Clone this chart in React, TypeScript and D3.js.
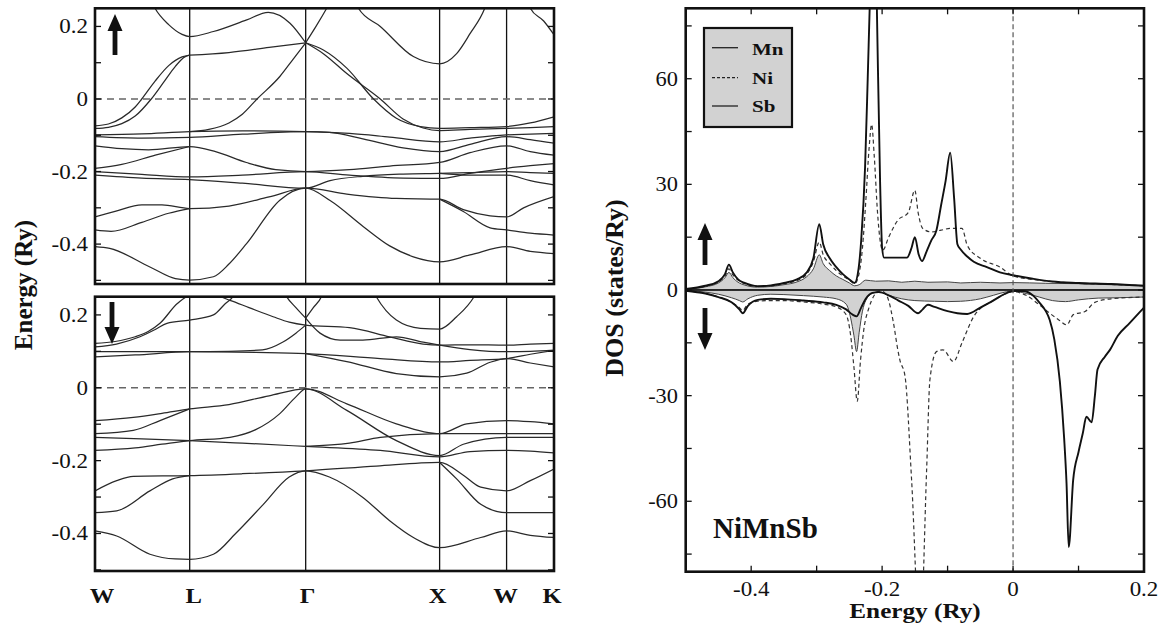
import React from "react";
import * as d3 from "d3";

type P = [number, number];

// ---------- Band structure data (k in path units, E in Ry) ----------
const kPoints = [0, 0.707, 1.573, 2.573, 3.073, 3.427];
const kLabels = ["W", "L", "Γ", "X", "W", "K"];
const bandTicks = [-0.4, -0.2, 0, 0.2];
const bandTickLabels = ["-0.4", "-0.2", "0", "0.2"];
const bandMinorTicks = [-0.5, -0.3, -0.1, 0.1];

const spinUpBands: P[][] = [
  [[0.42, 0.27], [0.448, 0.25], [0.55, 0.205], [0.65, 0.178], [0.707, 0.172], [0.884, 0.186], [1.133, 0.218], [1.294, 0.239], [1.456, 0.209], [1.573, 0.155]],
  [[1.573, 0.155], [1.65, 0.2], [1.73, 0.25], [1.76, 0.27]],
  [[1.94, 0.27], [1.967, 0.25], [2.13, 0.2], [2.377, 0.117], [2.573, 0.097], [2.7, 0.125], [2.8, 0.18], [2.91, 0.25], [2.93, 0.27]],
  [[3.23, 0.27], [3.25, 0.25], [3.35, 0.215], [3.427, 0.177]],
  [[0.707, 0.121], [1.0, 0.128], [1.3, 0.142], [1.573, 0.155]],
  [[1.573, 0.155], [1.705, 0.135], [1.88, 0.085], [2.08, 0.0], [2.25, -0.053], [2.43, -0.076], [2.573, -0.081], [2.8, -0.079], [3.073, -0.076], [3.25, -0.066], [3.427, -0.049]],
  [[1.573, 0.155], [1.705, 0.125], [1.88, 0.07], [2.13, 0.0], [2.3, -0.055], [2.45, -0.08], [2.573, -0.087], [2.8, -0.084], [3.073, -0.081], [3.25, -0.079], [3.427, -0.076]],
  [[0.707, -0.09], [0.85, -0.084], [1.0, -0.066], [1.1, -0.042], [1.21, 0.0], [1.38, 0.062], [1.48, 0.11], [1.573, 0.155]],
  [[0, -0.074], [0.1, -0.069], [0.2, -0.052], [0.3, -0.022], [0.349, 0.0], [0.45, 0.05], [0.55, 0.092], [0.65, 0.116], [0.707, 0.121]],
  [[0, -0.081], [0.1, -0.078], [0.2, -0.068], [0.3, -0.047], [0.42, 0.0], [0.52, 0.05], [0.6, 0.09], [0.67, 0.116], [0.707, 0.121]],
  [[0, -0.099], [0.35, -0.096], [0.707, -0.09], [1.1, -0.088], [1.573, -0.09], [1.9, -0.095], [2.2, -0.105], [2.573, -0.118], [2.8, -0.108], [3.073, -0.099], [3.25, -0.097], [3.427, -0.095]],
  [[0, -0.104], [0.35, -0.108], [0.707, -0.106], [1.1, -0.097], [1.573, -0.09], [1.75, -0.092], [2.0, -0.11], [2.3, -0.135], [2.573, -0.145], [2.8, -0.125], [3.073, -0.104], [3.25, -0.112], [3.427, -0.122]],
  [[0, -0.129], [0.2, -0.137], [0.4, -0.14], [0.707, -0.131], [0.9, -0.145], [1.13, -0.175], [1.35, -0.195], [1.573, -0.2], [1.9, -0.195], [2.2, -0.185], [2.573, -0.175], [2.8, -0.148], [3.073, -0.129], [3.25, -0.145], [3.427, -0.155]],
  [[0, -0.191], [0.2, -0.18], [0.45, -0.155], [0.707, -0.131]],
  [[0, -0.2], [0.35, -0.208], [0.707, -0.215], [1.1, -0.21], [1.573, -0.2], [1.9, -0.21], [2.3, -0.218], [2.573, -0.219], [2.8, -0.205], [3.073, -0.191], [3.25, -0.184], [3.427, -0.178]],
  [[0, -0.21], [0.35, -0.218], [0.707, -0.222], [1.1, -0.232], [1.573, -0.246], [1.755, -0.225], [2.0, -0.213], [2.3, -0.207], [2.573, -0.205], [2.8, -0.203], [3.073, -0.2], [3.25, -0.203], [3.427, -0.205]],
  [[2.573, -0.205], [2.8, -0.21], [3.073, -0.21], [3.25, -0.225], [3.427, -0.237]],
  [[0, -0.325], [0.15, -0.31], [0.35, -0.292], [0.5, -0.292], [0.707, -0.302], [1.0, -0.295], [1.3, -0.27], [1.573, -0.246], [1.88, -0.262], [2.25, -0.274], [2.573, -0.276], [2.75, -0.305], [2.95, -0.322], [3.073, -0.325], [3.2, -0.3], [3.427, -0.269]],
  [[0, -0.361], [0.12, -0.365], [0.35, -0.34], [0.55, -0.315], [0.707, -0.302]],
  [[2.573, -0.276], [2.75, -0.31], [2.95, -0.355], [3.073, -0.361], [3.25, -0.37], [3.427, -0.375]],
  [[0, -0.407], [0.11, -0.412], [0.41, -0.463], [0.6, -0.495], [0.707, -0.499], [0.884, -0.49], [1.0, -0.455], [1.133, -0.398], [1.38, -0.279], [1.573, -0.246], [1.755, -0.28], [2.004, -0.352], [2.2, -0.405], [2.377, -0.435], [2.573, -0.449], [2.8, -0.43], [3.073, -0.407], [3.25, -0.42], [3.427, -0.426]],
];

const spinDownBands: P[][] = [
  [[0, 0.122], [0.15, 0.127], [0.3, 0.14], [0.4, 0.155], [0.485, 0.177], [0.617, 0.232], [0.707, 0.252], [0.9, 0.252], [1.008, 0.24], [1.15, 0.22], [1.33, 0.195], [1.45, 0.18], [1.573, 0.172], [1.9, 0.165], [2.2, 0.14], [2.45, 0.12], [2.573, 0.117], [2.8, 0.118], [3.073, 0.117], [3.25, 0.12], [3.427, 0.122]],
  [[0, 0.112], [0.16, 0.12], [0.336, 0.14], [0.45, 0.16], [0.537, 0.177], [0.707, 0.186], [0.884, 0.2], [0.97, 0.23], [1.03, 0.25], [1.06, 0.27]],
  [[0, 0.099], [0.35, 0.099], [0.707, 0.099], [1.2, 0.097], [1.573, 0.094], [2.13, 0.08], [2.573, 0.071], [2.8, 0.075], [3.073, 0.08], [3.25, 0.092], [3.427, 0.103]],
  [[0, 0.085], [0.3, 0.09], [0.707, 0.099], [1.0, 0.1], [1.25, 0.104], [1.4, 0.125], [1.5, 0.15], [1.573, 0.172]],
  [[1.573, 0.191], [1.68, 0.15], [1.83, 0.131], [2.0, 0.131], [2.25, 0.14], [2.45, 0.125], [2.573, 0.117], [2.8, 0.105], [3.073, 0.099], [3.25, 0.1], [3.427, 0.103]],
  [[1.4, 0.27], [1.43, 0.25], [1.5, 0.22], [1.573, 0.191]],
  [[1.573, 0.191], [1.63, 0.22], [1.69, 0.25], [1.71, 0.27]],
  [[2.07, 0.27], [2.1, 0.25], [2.25, 0.186], [2.43, 0.163], [2.573, 0.161], [2.7, 0.195], [2.83, 0.25], [2.86, 0.27]],
  [[1.573, 0.094], [1.88, 0.072], [2.25, 0.039], [2.573, 0.03], [2.775, 0.04], [2.95, 0.07], [3.073, 0.08], [3.25, 0.068], [3.427, 0.057]],
  [[0, -0.09], [0.286, -0.081], [0.5, -0.07], [0.707, -0.058], [1.0, -0.046], [1.3, -0.022], [1.573, -0.003], [1.88, -0.044], [2.25, -0.099], [2.573, -0.126], [2.775, -0.099], [3.073, -0.09], [3.25, -0.093], [3.427, -0.099]],
  [[0, -0.126], [0.286, -0.117], [0.485, -0.09], [0.707, -0.058]],
  [[0, -0.136], [0.35, -0.14], [0.707, -0.145], [1.1, -0.152], [1.573, -0.161], [2.13, -0.172], [2.573, -0.19], [2.8, -0.175], [3.073, -0.172], [3.25, -0.174], [3.427, -0.179]],
  [[0, -0.172], [0.3, -0.165], [0.5, -0.155], [0.707, -0.145], [1.008, -0.136], [1.2, -0.115], [1.38, -0.071], [1.5, -0.025], [1.573, -0.003], [1.88, -0.062], [2.25, -0.145], [2.573, -0.186], [2.75, -0.155], [3.073, -0.136], [3.25, -0.136], [3.427, -0.136]],
  [[1.573, -0.161], [1.9, -0.152], [2.13, -0.136], [2.573, -0.126], [3.073, -0.126], [3.427, -0.126]],
  [[0, -0.283], [0.162, -0.255], [0.286, -0.243], [0.707, -0.241], [1.1, -0.236], [1.573, -0.228], [2.1, -0.215], [2.573, -0.205], [2.75, -0.24], [2.88, -0.273], [3.073, -0.283], [3.25, -0.255], [3.427, -0.223]],
  [[0, -0.343], [0.162, -0.338], [0.41, -0.283], [0.58, -0.25], [0.707, -0.241]],
  [[0, -0.393], [0.162, -0.407], [0.41, -0.457], [0.6, -0.47], [0.707, -0.471], [0.884, -0.457], [1.05, -0.4], [1.257, -0.32], [1.45, -0.245], [1.573, -0.228], [1.75, -0.245], [2.0, -0.301], [2.2, -0.365], [2.377, -0.411], [2.573, -0.439], [2.88, -0.411], [3.073, -0.393], [3.25, -0.405], [3.427, -0.411]],
  [[2.573, -0.205], [2.7, -0.25], [2.88, -0.32], [3.073, -0.343], [3.25, -0.343], [3.427, -0.343]],
];

// ---------- DOS data (E in Ry, DOS in states/Ry) ----------
const dosEnergyTicks = [-0.4, -0.2, 0, 0.2];
const dosEnergyLabels = ["-0.4", "-0.2", "0", "0.2"];
const dosValueTicks = [-60, -30, 0, 30, 60];
const dosValueLabels = ["-60", "-30", "0", "30", "60"];
const legendNames = ["Mn", "Ni", "Sb"];

const mnUp: P[] = [
  [-0.5, 0.3], [-0.47, 1.2], [-0.45, 2.5], [-0.44, 4.5], [-0.434, 7.2], [-0.428, 5], [-0.42, 3], [-0.41, 2], [-0.39, 1.1], [-0.37, 1.3], [-0.35, 2], [-0.33, 3], [-0.315, 5], [-0.305, 9], [-0.296, 18.7], [-0.29, 13], [-0.28, 9], [-0.27, 6.5], [-0.26, 4.5], [-0.25, 3], [-0.242, 2], [-0.236, 6], [-0.232, 14], [-0.226, 35], [-0.222, 60], [-0.219, 80], [-0.214, 110], [-0.21, 100], [-0.208, 80], [-0.203, 30], [-0.2, 12], [-0.197, 9.2], [-0.18, 9.2], [-0.162, 9.2], [-0.155, 12], [-0.15, 15], [-0.144, 10], [-0.139, 8.2], [-0.132, 11], [-0.125, 14], [-0.117, 17], [-0.11, 24], [-0.103, 31], [-0.096, 39], [-0.09, 26], [-0.085, 13], [-0.08, 11.5], [-0.07, 9.5], [-0.06, 8], [-0.04, 6.5], [-0.02, 5], [0, 4.2], [0.03, 3.2], [0.06, 2.4], [0.1, 2], [0.15, 1.7], [0.2, 1.2],
];
const niUp: P[] = [
  [-0.5, 0.3], [-0.47, 1.1], [-0.45, 2.3], [-0.44, 4], [-0.434, 6], [-0.428, 4.3], [-0.42, 2.8], [-0.41, 1.8], [-0.39, 1.0], [-0.37, 1.2], [-0.35, 1.8], [-0.33, 2.7], [-0.315, 4.5], [-0.305, 8], [-0.296, 13.6], [-0.29, 10], [-0.28, 7.5], [-0.27, 5.5], [-0.26, 4], [-0.25, 2.8], [-0.242, 1.8], [-0.236, 4], [-0.23, 12], [-0.225, 25], [-0.22, 40], [-0.216, 47], [-0.212, 38], [-0.207, 22], [-0.203, 14], [-0.199, 11.3], [-0.19, 15], [-0.176, 19.8], [-0.16, 22], [-0.15, 28.3], [-0.145, 22], [-0.138, 17.5], [-0.125, 16.5], [-0.11, 17], [-0.095, 17.5], [-0.078, 17.5], [-0.07, 12.7], [-0.05, 9], [-0.02, 6.5], [0, 4], [0.03, 3], [0.06, 2.4], [0.1, 1.9], [0.15, 1.6], [0.2, 1.2],
];
const sbUp: P[] = [
  [-0.5, 0.2], [-0.47, 0.9], [-0.45, 2], [-0.44, 3.5], [-0.434, 5], [-0.428, 3.5], [-0.42, 2.2], [-0.41, 1.4], [-0.39, 0.8], [-0.37, 1], [-0.35, 1.5], [-0.33, 2.3], [-0.315, 3.8], [-0.305, 6], [-0.296, 10], [-0.29, 7.5], [-0.28, 5.5], [-0.27, 4], [-0.26, 3], [-0.25, 2], [-0.242, 1.2], [-0.235, 1.5], [-0.225, 2.8], [-0.21, 2.5], [-0.19, 2.6], [-0.17, 2.2], [-0.15, 2.5], [-0.13, 2.2], [-0.1, 2.3], [-0.08, 2.0], [-0.05, 2.2], [-0.02, 2.0], [0, 2.1], [0.05, 1.9], [0.1, 1.8], [0.15, 1.5], [0.2, 1.3],
];
const mnDown: P[] = [
  [-0.5, -0.2], [-0.47, -1], [-0.45, -2], [-0.43, -3.5], [-0.418, -5.5], [-0.413, -6.6], [-0.405, -4.5], [-0.39, -2.8], [-0.37, -2.5], [-0.35, -2.6], [-0.32, -3], [-0.29, -3.5], [-0.27, -4.2], [-0.255, -5.5], [-0.245, -7], [-0.239, -7.5], [-0.232, -5], [-0.225, -2.5], [-0.215, -0.8], [-0.205, -0.6], [-0.19, -1.5], [-0.175, -3], [-0.16, -4.5], [-0.145, -6.6], [-0.138, -5.5], [-0.13, -4.2], [-0.12, -4.8], [-0.1, -6], [-0.085, -6.6], [-0.07, -6.8], [-0.05, -5], [-0.035, -3.5], [-0.01, -0.9], [0, -0.3], [0.015, -0.3], [0.03, -1.5], [0.04, -3.5], [0.05, -6], [0.056, -8.5], [0.063, -14], [0.0715, -26], [0.078, -42], [0.0817, -55], [0.085, -73], [0.0918, -54], [0.1, -46], [0.1066, -40.6], [0.112, -36], [0.12, -37.6], [0.125, -30], [0.129, -22.6], [0.14, -19], [0.148, -17], [0.16, -13], [0.178, -9.4], [0.2, -5],
];
const niDown: P[] = [
  [-0.5, -0.2], [-0.47, -1], [-0.45, -2], [-0.43, -3.5], [-0.418, -5], [-0.413, -5.8], [-0.405, -4], [-0.39, -3.2], [-0.37, -3], [-0.35, -3], [-0.32, -3.4], [-0.29, -4], [-0.27, -4.8], [-0.255, -7], [-0.248, -13], [-0.243, -22], [-0.238, -31.6], [-0.233, -20], [-0.228, -11.3], [-0.22, -5], [-0.212, -1.5], [-0.205, -0.3], [-0.198, -0.5], [-0.19, -3], [-0.183, -9], [-0.176, -17], [-0.173, -19.8], [-0.165, -24.5], [-0.155, -53.8], [-0.142, -100], [-0.132, -51], [-0.127, -25.5], [-0.117, -17.5], [-0.107, -17], [-0.091, -20.3], [-0.078, -15], [-0.06, -7.5], [-0.03, -3], [-0.01, -1], [0, -0.5], [0.02, -1.5], [0.04, -4.2], [0.056, -6.6], [0.07, -8.5], [0.082, -9.9], [0.092, -7], [0.11, -6.1], [0.125, -3.5], [0.15, -2.5], [0.2, -2],
];
const sbDown: P[] = [
  [-0.5, -0.1], [-0.47, -0.6], [-0.45, -1.2], [-0.43, -2.2], [-0.418, -3], [-0.413, -3.4], [-0.405, -2.5], [-0.39, -1.5], [-0.37, -1.2], [-0.35, -1.3], [-0.32, -1.6], [-0.29, -2], [-0.27, -2.5], [-0.255, -4], [-0.248, -8], [-0.243, -13], [-0.239, -17.5], [-0.235, -12], [-0.23, -6], [-0.225, -3], [-0.215, -1], [-0.205, -0.5], [-0.19, -1.5], [-0.17, -2.5], [-0.15, -3], [-0.12, -3.2], [-0.1, -3.3], [-0.08, -3.2], [-0.05, -2.5], [-0.03, -1.5], [-0.01, -0.5], [0, -0.3], [0.02, -1], [0.04, -2], [0.06, -3], [0.08, -3.3], [0.1, -2.8], [0.13, -2.3], [0.16, -2.2], [0.2, -2],
];

const FONT = "'Liberation Serif', 'Times New Roman', Times, serif";

function SText(props: { x: number; y: number; sx?: number; anchor?: string; size: number; bold?: boolean; children: React.ReactNode }) {
  const { x, y, sx = 1.15, anchor = "start", size, bold, children } = props;
  return (
    <text transform={`translate(${x},${y}) scale(${sx},1)`} textAnchor={anchor} fontSize={size} fontWeight={bold ? "bold" : "normal"} fontFamily={FONT} fill="#111">
      {children}
    </text>
  );
}

function Arrow({ x, y1, y2 }: { x: number; y1: number; y2: number }) {
  const dir = y2 < y1 ? -1 : 1;
  const headLen = 17;
  const hw = 7.5;
  const sw = 2.4;
  const hb = y2 - dir * headLen;
  const d = `M${x - sw},${y1} L${x + sw},${y1} L${x + sw},${hb} L${x + hw},${hb} L${x},${y2} L${x - hw},${hb} L${x - sw},${hb} Z`;
  return <path d={d} fill="#111" />;
}

function BandPanel({ id, bands, top, bottom, domain, arrowUp }: { id: string; bands: P[][]; top: number; bottom: number; domain: [number, number]; arrowUp: boolean }) {
  const left = 95, right = 554;
  const x = d3.scaleLinear().domain([0, 3.427]).range([left, right]);
  const y = d3.scaleLinear().domain(domain).range([bottom, top]);
  const line = d3.line<P>().x((d) => x(d[0])).y((d) => y(d[1])).curve(d3.curveMonotoneX);
  return (
    <g>
      <defs>
        <clipPath id={id}>
          <rect x={left} y={top} width={right - left} height={bottom - top} />
        </clipPath>
      </defs>
      <g clipPath={`url(#${id})`}>
        {kPoints.slice(1, -1).map((k, i) => (
          <line key={i} x1={x(k)} x2={x(k)} y1={top} y2={bottom} stroke="#111" strokeWidth={1.3} />
        ))}
        <line x1={left} x2={right} y1={y(0)} y2={y(0)} stroke="#666" strokeWidth={1.5} strokeDasharray="7,5" />
        {bands.map((b, i) => (
          <path key={i} d={line(b) || ""} fill="none" stroke="#2a2a2a" strokeWidth={1.25} />
        ))}
      </g>
      {[...bandTicks, ...bandMinorTicks].map((t, i) => (
        <g key={i}>
          <line x1={left} x2={left + 6} y1={y(t)} y2={y(t)} stroke="#111" strokeWidth={1.3} />
          <line x1={right - 6} x2={right} y1={y(t)} y2={y(t)} stroke="#111" strokeWidth={1.3} />
        </g>
      ))}
      {bandTicks.map((t, i) => (
        <SText key={i} x={88} y={y(t) + 7} anchor="end" size={20} sx={1.15}>
          {bandTickLabels[i]}
        </SText>
      ))}
      <rect x={left} y={top} width={right - left} height={bottom - top} fill="none" stroke="#111" strokeWidth={2.6} />
      {arrowUp ? <Arrow x={115} y1={55} y2={14} /> : <Arrow x={112} y1={302} y2={344} />}
    </g>
  );
}

export default function App() {
  const L = 685.7, R = 1144, T = 8.3, B = 571.7;
  const dx = d3.scaleLinear().domain([-0.5, 0.2]).range([L, R]);
  const dy = d3.scaleLinear().domain([-80, 80]).range([B, T]);
  const line = d3.line<P>().x((d) => dx(d[0])).y((d) => dy(d[1])).curve(d3.curveMonotoneX);
  const area = d3.area<P>().x((d) => dx(d[0])).y0(dy(0)).y1((d) => dy(d[1])).curve(d3.curveMonotoneX);
  const bx = d3.scaleLinear().domain([0, 3.427]).range([95, 554]);
  const labelOffsets = [7, 4, 2, -2, -1, -2];
  const minorV = d3.range(-75, 76, 15);
  const minorE = [-0.4, -0.3, -0.2, -0.1, 0, 0.1];

  return (
    <div style={{ position: "fixed", left: 0, top: 0 }}>
      <svg width={1169} height={630} style={{ display: "block", background: "#fff" }}>
        <rect x={0} y={0} width={1169} height={630} fill="#fff" />
        <BandPanel id="clipUp" bands={spinUpBands} top={8.3} bottom={284} domain={[-0.51, 0.25]} arrowUp={true} />
        <BandPanel id="clipDn" bands={spinDownBands} top={296.7} bottom={571} domain={[-0.503, 0.25]} arrowUp={false} />
        {kPoints.map((k, i) => (
          <SText key={i} x={bx(k) + labelOffsets[i]} y={603} anchor="middle" size={22} bold sx={1.12}>
            {kLabels[i]}
          </SText>
        ))}
        <text transform="translate(32,285) rotate(-90)" textAnchor="middle" fontSize={25} fontWeight="bold" fontFamily={FONT} fill="#111">
          Energy (Ry)
        </text>

        <defs>
          <clipPath id="clipDos">
            <rect x={L} y={T} width={R - L} height={B - T} />
          </clipPath>
        </defs>
        <g clipPath="url(#clipDos)">
          <path d={area(sbUp) || ""} fill="#d2d2d2" stroke="#444" strokeWidth={1} />
          <path d={area(sbDown) || ""} fill="#d2d2d2" stroke="#444" strokeWidth={1} />
          <path d={line(niUp) || ""} fill="none" stroke="#333" strokeWidth={1.2} strokeDasharray="4,3" />
          <path d={line(niDown) || ""} fill="none" stroke="#333" strokeWidth={1.2} strokeDasharray="4,3" />
          <path d={line(mnUp) || ""} fill="none" stroke="#111" strokeWidth={1.9} />
          <path d={line(mnDown) || ""} fill="none" stroke="#111" strokeWidth={1.9} />
          <line x1={L} x2={R} y1={dy(0)} y2={dy(0)} stroke="#111" strokeWidth={1.6} />
          <line x1={dx(0)} x2={dx(0)} y1={T} y2={B} stroke="#555" strokeWidth={1.2} strokeDasharray="5,3" />
        </g>
        {minorV.map((v, i) => (
          <g key={"v" + i}>
            <line x1={L} x2={L + 6} y1={dy(v)} y2={dy(v)} stroke="#111" strokeWidth={1.3} />
            <line x1={R - 6} x2={R} y1={dy(v)} y2={dy(v)} stroke="#111" strokeWidth={1.3} />
          </g>
        ))}
        {minorE.map((e, i) => (
          <g key={"e" + i}>
            <line x1={dx(e)} x2={dx(e)} y1={B} y2={B - 6} stroke="#111" strokeWidth={1.3} />
            <line x1={dx(e)} x2={dx(e)} y1={T} y2={T + 6} stroke="#111" strokeWidth={1.3} />
          </g>
        ))}
        {dosValueTicks.map((v, i) => (
          <SText key={i} x={678} y={dy(v) + 7} anchor="end" size={20} sx={1.12}>
            {dosValueLabels[i]}
          </SText>
        ))}
        {dosEnergyTicks.map((e, i) => (
          <SText key={i} x={dx(e)} y={596} anchor="middle" size={20} sx={1.15}>
            {dosEnergyLabels[i]}
          </SText>
        ))}
        <rect x={L} y={T} width={R - L} height={B - T} fill="none" stroke="#111" strokeWidth={2.6} />

        <rect x={704} y={28} width={88} height={99} fill="#d2d2d2" stroke="#111" strokeWidth={2.2} />
        {legendNames.map((n, i) => {
          const ly = [47.7, 77.7, 106][i];
          const by = [55, 84, 112][i];
          return (
            <g key={n}>
              <line x1={712} x2={738} y1={ly} y2={ly} stroke="#222" strokeWidth={1.3} strokeDasharray={n === "Ni" ? "3,2" : undefined} />
              <SText x={752} y={by} size={17.5} bold sx={1.2}>
                {n}
              </SText>
            </g>
          );
        })}

        <text x={713} y={538} fontSize={29} fontWeight="bold" fontFamily={FONT} fill="#111">
          NiMnSb
        </text>
        <Arrow x={705} y1={265} y2={223} />
        <Arrow x={705} y1={308} y2={350} />
        <SText x={915} y={618} anchor="middle" size={21} bold sx={1.2}>
          Energy (Ry)
        </SText>
        <text transform="translate(623,288) rotate(-90)" textAnchor="middle" fontSize={26} fontWeight="bold" fontFamily={FONT} fill="#111">
          DOS (states/Ry)
        </text>
      </svg>
    </div>
  );
}
